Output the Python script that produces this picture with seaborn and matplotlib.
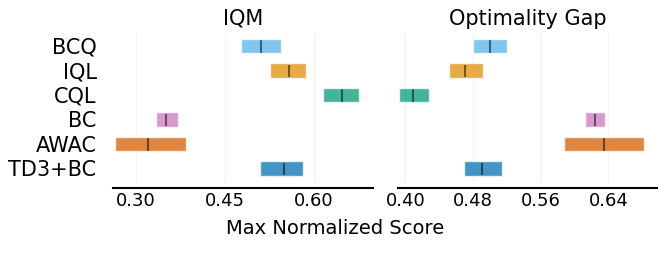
import numpy as np
import seaborn as sns
from matplotlib import pyplot as plt

sns.set_style('white')
plt.rcParams['font.family'] = ['DejaVu Sans']
plt.rcParams['text.color'] = 'black'
plt.rcParams['xtick.color'] = 'black'
plt.rcParams['ytick.color'] = 'black'

# algorithms listed top to bottom
algorithms = ['BCQ', 'IQL', 'CQL', 'BC', 'AWAC', 'TD3+BC']
metrics = ['IQM', 'Optimality Gap']

iqm_low = [0.478, 0.526, 0.616, 0.334, 0.265, 0.510]
iqm_high = [0.545, 0.588, 0.677, 0.371, 0.384, 0.583]
iqm_point = [0.511, 0.559, 0.648, 0.351, 0.320, 0.551]

gap_low = [0.480, 0.452, 0.393, 0.612, 0.587, 0.469]
gap_high = [0.520, 0.492, 0.428, 0.636, 0.682, 0.514]
gap_point = [0.500, 0.471, 0.409, 0.624, 0.635, 0.490]

iqm_ticks = [0.30, 0.45, 0.60]
gap_ticks = [0.40, 0.48, 0.56, 0.64]

cb = sns.color_palette('colorblind')
colors = {'BCQ': cb[9], 'IQL': cb[1], 'CQL': cb[2], 'BC': cb[4],
          'AWAC': cb[3], 'TD3+BC': cb[0]}


def draw_intervals(ax, low, high, point, h=0.6):
    n = len(algorithms)
    for i, alg in enumerate(algorithms):
        y = n - 1 - i
        ax.barh(y=y, width=high[i] - low[i], height=h, left=low[i],
                color=colors[alg], alpha=0.75, label=alg)
        ax.vlines(x=point[i], ymin=y - 7.5 * h / 16, ymax=y + 6 * h / 16,
                  color='k', alpha=0.5)


def decorate(ax, ticks, xlim):
    ax.set_xticks(ticks)
    ax.set_xticklabels(['%.2f' % t for t in ticks])
    ax.set_xlim(*xlim)
    ax.set_ylim(-0.58, 5.58)
    sns.despine(ax=ax, left=True)
    ax.spines['bottom'].set_linewidth(1.5)
    ax.spines['bottom'].set_color('black')
    ax.spines['bottom'].set_position(('outward', 4))
    ax.spines['left'].set_position(('outward', 4))
    ax.tick_params(length=0.1, width=0.1, labelsize=13, pad=3)
    ax.grid(True, axis='x', alpha=0.25)


fig = plt.figure(figsize=(6.65, 2.57), dpi=100)
ax1 = fig.add_axes([0.1704, 0.2895, 0.3901, 0.5872])
ax2 = fig.add_axes([0.599, 0.2895, 0.3885, 0.5872])

draw_intervals(ax1, iqm_low, iqm_high, iqm_point)
draw_intervals(ax2, gap_low, gap_high, gap_point)

decorate(ax1, iqm_ticks, (0.262, 0.70))
decorate(ax2, gap_ticks, (0.3917, 0.697))

ax1.set_yticks(range(len(algorithms)))
ax1.set_yticklabels(algorithms[::-1], fontsize=15)
ax1.tick_params(axis='y', pad=8)
ax2.set_yticks([])

ax1.set_title(metrics[0], fontsize=15, pad=5)
ax2.set_title(metrics[1], fontsize=15, pad=5)

fig.text(0.504, 0.109, 'Max Normalized Score', ha='center', va='center', fontsize=14)

fig.savefig('out.png', dpi=100)
